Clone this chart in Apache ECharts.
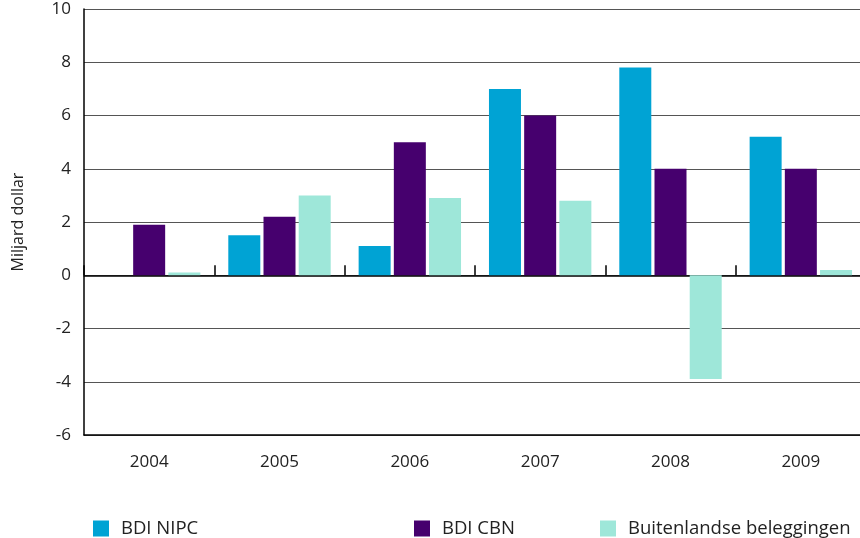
<!DOCTYPE html>
<html lang="nl">

<head>
  <meta charset="UTF-8">
  <title>Miljard dollar</title>
  <script src="https://cdn.jsdelivr.net/npm/echarts@6/dist/echarts.min.js"></script>
</head>

<body style="margin:0;">
  <div id="main" style="width: 860px;height:538px;background:#fff;"></div>
</body>

</html>
<script>
  const years = ['2004', '2005', '2006', '2007', '2008', '2009'];
  const seriesNames = ['BDI NIPC', 'BDI CBN', 'Buitenlandse beleggingen'];
  const nipc = [0, 1.5, 1.1, 7.0, 7.8, 5.2];
  const cbn = [1.9, 2.2, 5.0, 6.0, 4.0, 4.0];
  const buitenland = [0.1, 3.0, 2.9, 2.8, -3.9, 0.2];
  const colors = ['#00a3d4', '#46006e', '#9ee7d9'];

  initChart();

  function initChart() {
    const font = 'Open Sans';
    const textColor = '#222';
    let myChart = echarts.init(document.getElementById('main'));

    // one legend per item, they sit at uneven spots in the original
    const legendLeft = [93, 414, 600];
    let legends = seriesNames.map((name, i) => ({
      data: [name],
      left: legendLeft[i],
      top: 519,
      padding: 0,
      icon: 'rect',
      itemWidth: 16,
      itemHeight: 16,
      itemGap: 13,
      textStyle: { fontFamily: font, fontSize: 18.5, color: textColor, padding: [0, 0, 0, 7] },
    }));

    let option = {
      animation: false,
      color: colors,
      textStyle: { fontFamily: font },
      legend: legends,
      // plot runs a few px past the right edge in the original
      grid: { left: 84, top: 9, width: 782, height: 426, outerBoundsMode: 'none' },
      xAxis: [{
          type: 'category',
          data: years,
          position: 'bottom',
          axisLine: { onZero: false, lineStyle: { color: '#000', width: 1.5 } },
          axisTick: { show: false },
          axisLabel: { margin: 19, fontSize: 17, color: textColor, fontFamily: font },
        },
        {
          // zero line with the small upward ticks between groups
          type: 'category',
          data: years,
          position: 'top',
          axisLine: { onZero: true, lineStyle: { color: '#000', width: 1.5 } },
          axisTick: { show: true, length: 10, lineStyle: { color: '#000', width: 1.5 } },
          axisLabel: { show: false },
        }
      ],
      yAxis: {
        type: 'value',
        min: -6,
        max: 10,
        interval: 2,
        name: 'Miljard dollar',
        nameLocation: 'middle',
        nameGap: 58,
        nameTextStyle: { fontSize: 16, color: textColor, fontFamily: font },
        axisLine: { show: true, lineStyle: { color: '#000', width: 1.5 } },
        axisTick: { show: false },
        axisLabel: { margin: 13, fontSize: 17, color: textColor, fontFamily: font },
        splitLine: { lineStyle: { color: '#555', width: 1.2 } },
      },
      series: [{
          name: seriesNames[0],
          type: 'bar',
          data: nipc,
          barWidth: 32,
          barGap: '10%',
        },
        {
          name: seriesNames[1],
          type: 'bar',
          data: cbn,
          barWidth: 32,
          barGap: '10%',
        },
        {
          name: seriesNames[2],
          type: 'bar',
          data: buitenland,
          barWidth: 32,
          barGap: '10%',
        }
      ],
    };
    myChart.setOption(option, true);
  }
</script>
